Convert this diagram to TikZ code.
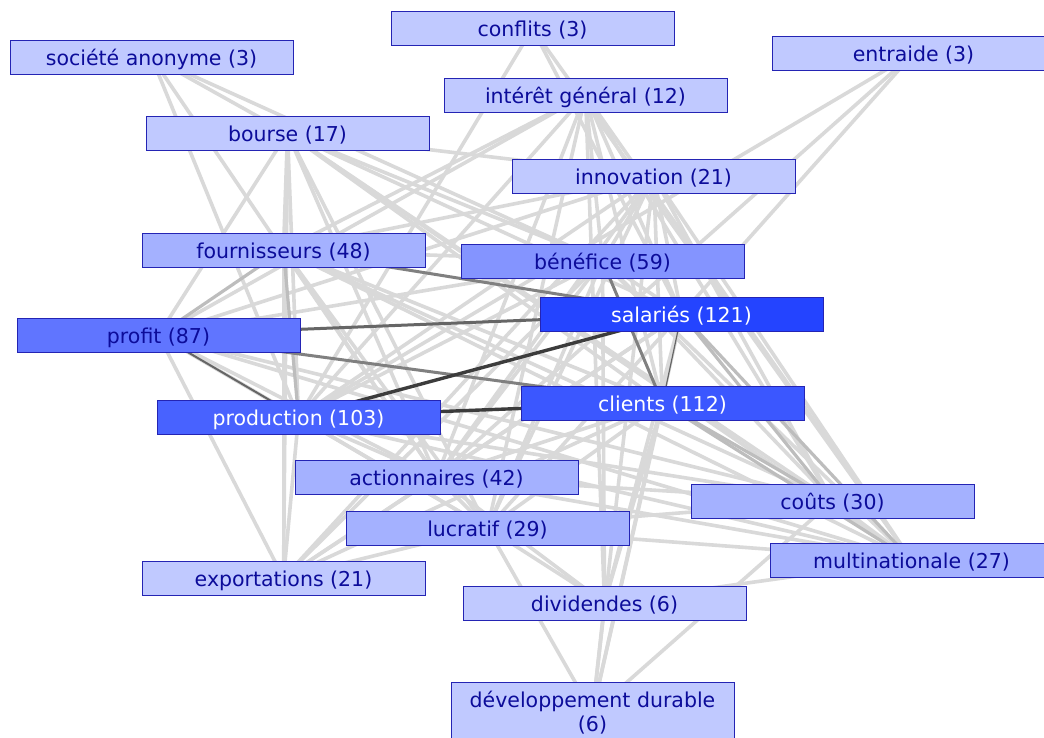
\documentclass[tikz,border=0pt]{standalone}
\usepackage{fontspec}
\setmainfont{DejaVu Sans}
\usetikzlibrary{backgrounds}

\definecolor{boxline}{HTML}{2424B4}
\definecolor{labeltext}{HTML}{0C0C9A}
\definecolor{fillA}{HTML}{C0C9FF}
\definecolor{fillB}{HTML}{A4B1FF}
\definecolor{fillC}{HTML}{8494FF}
\definecolor{fillD}{HTML}{6075FF}
\definecolor{fillE}{HTML}{4862FF}
\definecolor{fillF}{HTML}{3B57FF}
\definecolor{fillG}{HTML}{2444FF}
\definecolor{edgeL}{HTML}{D9D9D9}
\definecolor{edgeM}{HTML}{BDBDBD}
\definecolor{edgeD}{HTML}{808080}
\definecolor{edgeDD}{HTML}{666666}
\definecolor{edgeX}{HTML}{3C3C3C}

\begin{document}
\begin{tikzpicture}[x=1pt,y=-1pt,
  wordbase/.style={draw=boxline, line width=0.9pt, minimum width=283pt,
    minimum height=34pt, inner sep=0pt,
    font=\fontsize{20.5}{23.5}\selectfont, text=labeltext},
  word/.style={wordbase, text height=18.5pt, text depth=1.5pt},
  strong/.style={text=white},
  eL/.style={draw=edgeL, line width=3.6pt},
  eM/.style={draw=edgeM, line width=3.2pt},
  eD/.style={draw=edgeD, line width=3pt},
  eDD/.style={draw=edgeDD, line width=3pt},
  eX/.style={draw=edgeX, line width=3.4pt},
  eThin/.style={draw=edgeDD, line width=1.2pt}]

\useasboundingbox (0,0) rectangle (1044,738);

% word boxes (coloured by frequency)
\node[word, fill=fillA] (SA)   at (151.5,57)  {société anonyme (3)};
\node[word, fill=fillA] (conf) at (532.5,28.5){conflits (3)};
\node[word, fill=fillA] (entr) at (913.5,53.5){entraide (3)};
\node[word, fill=fillA] (ig)   at (585.5,95)  {intérêt général (12)};
\node[word, fill=fillA] (bour) at (287.5,133) {bourse (17)};
\node[word, fill=fillA] (inno) at (653.5,176) {innovation (21)};
\node[word, fill=fillB] (four) at (283.5,250) {fournisseurs (48)};
\node[word, fill=fillC] (bene) at (602.5,261) {bénéfice (59)};
\node[word, fill=fillG, strong] (sal)  at (681.5,314) {salariés (121)};
\node[word, fill=fillD] (prof) at (158.5,335) {profit (87)};
\node[word, fill=fillE, strong] (prod) at (298.5,417) {production (103)};
\node[word, fill=fillF, strong] (cli)  at (662.5,403) {clients (112)};
\node[word, fill=fillB] (act)  at (436.5,477) {actionnaires (42)};
\node[word, fill=fillB] (cout) at (832.5,501) {coûts (30)};
\node[word, fill=fillB] (luc)  at (487.5,528) {lucratif (29)};
\node[word, fill=fillB] (mult) at (911.5,560) {multinationale (27)};
\node[word, fill=fillA] (exp)  at (283.5,578) {exportations (21)};
\node[word, fill=fillA] (div)  at (604.5,603) {dividendes (6)};
\node[wordbase, fill=fillA, minimum height=60pt, align=center] (dd) at (592.5,712.5)
  {développement durable\\(6)};

\begin{pgfonlayer}{background}
  \fill[white] (0,0) rectangle (1044,738);
  % weak co-occurrences
  \foreach \a/\b in {SA/bour, SA/prod, SA/act, SA/bene,
    conf/prod, conf/sal, conf/mult,
    entr/prod, entr/act, entr/sal,
    ig/bene, ig/sal, ig/cli, ig/cout, ig/mult, ig/prod, ig/four, ig/prof,
    ig/act, ig/luc, ig/div,
    bour/prof, bour/four, bour/prod, bour/inno, bour/bene, bour/sal,
    bour/cli, bour/cout, bour/mult, bour/act, bour/exp, bour/luc,
    inno/four, inno/prof, inno/prod, inno/bene, inno/sal, inno/cli,
    inno/cout, inno/mult, inno/act, inno/exp, inno/dd, inno/luc,
    four/cli, four/bene, four/act, four/luc, four/exp, four/cout, four/mult,
    bene/prof, bene/prod, bene/sal, bene/act, bene/luc, bene/cout,
    bene/mult, bene/exp, bene/div,
    sal/act, sal/luc, sal/exp, sal/div, sal/dd,
    prof/act, prof/luc, prof/exp, prof/cout, prof/mult,
    prod/act, prod/luc, prod/exp, prod/cout, prod/mult,
    cli/act, cli/luc, cli/exp, cli/div, cli/dd,
    act/luc, act/cout, act/mult, act/exp, act/div,
    cout/luc, cout/dd, cout/mult,
    luc/mult, luc/exp, luc/dd, luc/div,
    mult/div, div/dd}
    \draw[eL] (\a.center) -- (\b.center);
  % medium co-occurrences
  \foreach \a/\b in {four/prof, four/prod, sal/cout, sal/mult, cli/cout, cli/mult}
    \draw[eM] (\a.center) -- (\b.center);
  % strong co-occurrences
  \foreach \a/\b in {four/sal, prof/cli, bene/cli}
    \draw[eD] (\a.center) -- (\b.center);
  \draw[eDD, line width=2pt] (prof.center) -- (prod.center);
  \draw[eDD] (prof.center) -- (sal.center);
  \draw[eThin] (sal.center) -- (cli.center);
  \draw[eX] (prod.center) -- (sal.center);
  \draw[eX] (prod.center) -- (cli.center);
\end{pgfonlayer}
\end{tikzpicture}
\end{document}
